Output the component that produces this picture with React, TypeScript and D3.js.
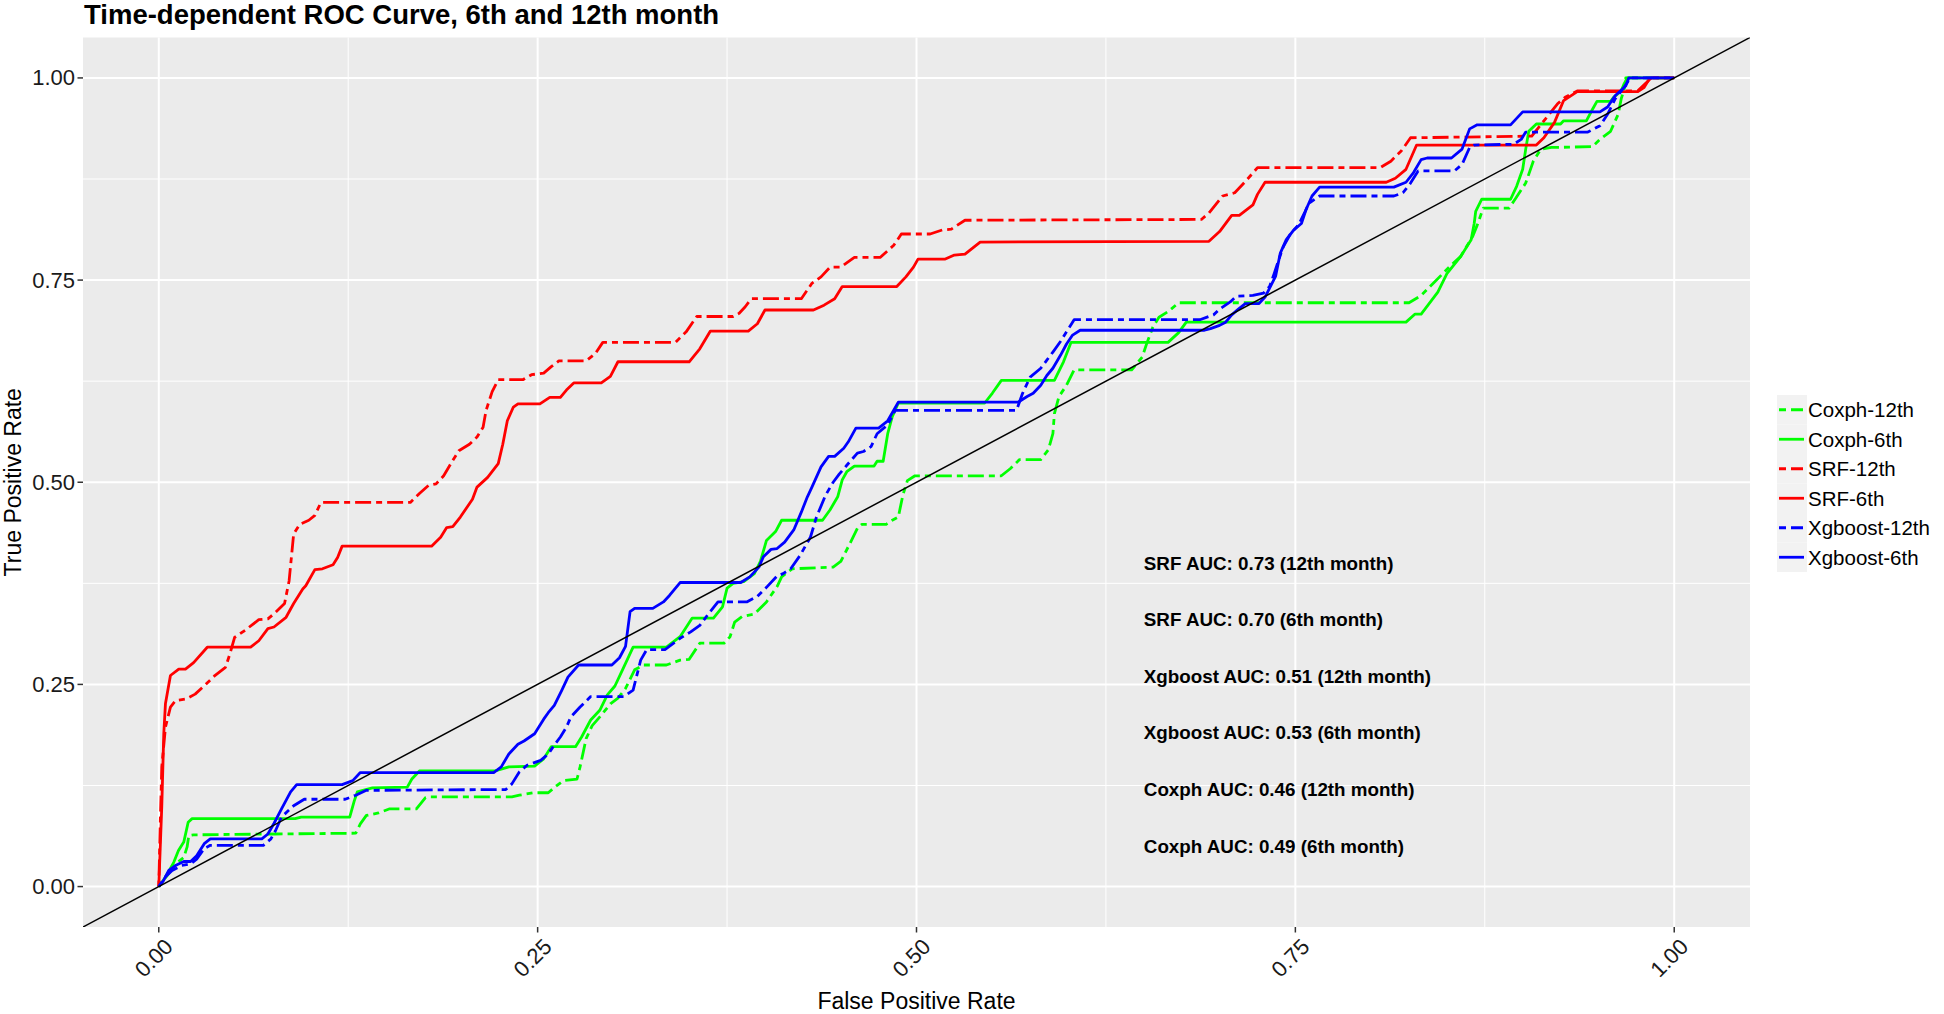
import React from "react";
import * as d3 from "d3";

type Pt = [number, number];

const seriesNames = ["Coxph-12th", "Coxph-6th", "SRF-12th", "SRF-6th", "Xgboost-12th", "Xgboost-6th"];
const seriesColors = ["#00FF00", "#00FF00", "#FF0000", "#FF0000", "#0000FF", "#0000FF"];
const seriesDashed = [true, false, true, false, true, false];

const coxph12: Pt[] = [[0,0],[0.0055,0.0136],[0.011,0.028],[0.0165,0.036],[0.0187,0.049],[0.0198,0.063],[0.023,0.064],[0.077,0.065],[0.13,0.066],[0.133,0.0775],[0.137,0.088],[0.145,0.091],[0.152,0.096],[0.17,0.096],[0.176,0.11],[0.178,0.111],[0.233,0.111],[0.238,0.113],[0.247,0.116],[0.257,0.116],[0.262,0.124],[0.267,0.131],[0.276,0.133],[0.278,0.148],[0.282,0.183],[0.286,0.199],[0.292,0.212],[0.298,0.226],[0.303,0.233],[0.308,0.245],[0.314,0.268],[0.32,0.274],[0.335,0.274],[0.344,0.28],[0.35,0.281],[0.357,0.301],[0.373,0.301],[0.377,0.309],[0.38,0.327],[0.385,0.334],[0.393,0.337],[0.401,0.352],[0.408,0.371],[0.411,0.383],[0.418,0.393],[0.445,0.395],[0.45,0.402],[0.456,0.424],[0.461,0.443],[0.464,0.448],[0.48,0.448],[0.484,0.453],[0.488,0.457],[0.491,0.484],[0.494,0.502],[0.499,0.508],[0.556,0.508],[0.562,0.517],[0.568,0.528],[0.582,0.528],[0.587,0.54],[0.59,0.56],[0.591,0.585],[0.594,0.606],[0.599,0.62],[0.604,0.639],[0.642,0.639],[0.649,0.655],[0.652,0.672],[0.656,0.692],[0.66,0.704],[0.666,0.711],[0.673,0.722],[0.825,0.722],[0.833,0.731],[0.842,0.748],[0.852,0.767],[0.859,0.779],[0.867,0.804],[0.87,0.818],[0.874,0.839],[0.891,0.839],[0.895,0.85],[0.902,0.87],[0.907,0.897],[0.912,0.912],[0.919,0.914],[0.946,0.915],[0.951,0.924],[0.958,0.934],[0.963,0.955],[0.965,0.974],[0.967,0.986],[0.968,1],[1,1]];

const coxph6: Pt[] = [[0,0],[0.0044,0.0115],[0.0099,0.03],[0.013,0.0445],[0.0165,0.055],[0.0194,0.0796],[0.022,0.084],[0.09,0.084],[0.094,0.086],[0.126,0.086],[0.129,0.106],[0.131,0.117],[0.141,0.122],[0.164,0.123],[0.167,0.133],[0.172,0.143],[0.222,0.143],[0.231,0.148],[0.248,0.149],[0.254,0.158],[0.259,0.173],[0.275,0.173],[0.279,0.185],[0.285,0.206],[0.291,0.218],[0.296,0.237],[0.301,0.248],[0.306,0.268],[0.313,0.296],[0.335,0.296],[0.344,0.309],[0.352,0.332],[0.366,0.332],[0.372,0.346],[0.375,0.369],[0.379,0.375],[0.386,0.377],[0.393,0.387],[0.397,0.402],[0.401,0.428],[0.407,0.439],[0.411,0.453],[0.438,0.453],[0.443,0.466],[0.448,0.482],[0.451,0.503],[0.454,0.513],[0.459,0.52],[0.472,0.52],[0.474,0.526],[0.478,0.526],[0.481,0.56],[0.484,0.581],[0.488,0.598],[0.545,0.598],[0.55,0.61],[0.556,0.626],[0.591,0.626],[0.597,0.649],[0.602,0.673],[0.666,0.673],[0.673,0.685],[0.678,0.698],[0.823,0.698],[0.829,0.708],[0.833,0.708],[0.844,0.735],[0.85,0.758],[0.859,0.779],[0.866,0.8],[0.868,0.82],[0.869,0.835],[0.873,0.85],[0.892,0.85],[0.896,0.866],[0.9,0.887],[0.902,0.912],[0.904,0.934],[0.909,0.943],[0.925,0.943],[0.927,0.947],[0.942,0.947],[0.946,0.961],[0.949,0.971],[0.958,0.971],[0.96,0.976],[0.965,0.984],[0.967,0.993],[0.969,1],[1,1]];

const srf12: Pt[] = [[0,0],[0.001,0.08],[0.002,0.148],[0.0044,0.197],[0.0077,0.222],[0.011,0.23],[0.018,0.232],[0.024,0.238],[0.031,0.25],[0.037,0.261],[0.044,0.271],[0.047,0.288],[0.05,0.308],[0.057,0.317],[0.066,0.33],[0.072,0.331],[0.077,0.339],[0.083,0.35],[0.086,0.378],[0.089,0.436],[0.093,0.448],[0.099,0.453],[0.103,0.459],[0.107,0.475],[0.166,0.475],[0.172,0.486],[0.178,0.496],[0.183,0.498],[0.188,0.508],[0.194,0.527],[0.198,0.539],[0.205,0.547],[0.21,0.556],[0.214,0.568],[0.216,0.589],[0.22,0.612],[0.224,0.627],[0.2405,0.627],[0.246,0.633],[0.254,0.635],[0.259,0.643],[0.264,0.65],[0.282,0.65],[0.288,0.659],[0.293,0.673],[0.341,0.673],[0.348,0.686],[0.355,0.705],[0.379,0.705],[0.383,0.709],[0.387,0.717],[0.391,0.727],[0.424,0.727],[0.431,0.746],[0.437,0.754],[0.443,0.766],[0.45,0.766],[0.459,0.778],[0.476,0.778],[0.485,0.793],[0.49,0.807],[0.509,0.807],[0.517,0.812],[0.523,0.813],[0.532,0.824],[0.688,0.825],[0.693,0.833],[0.702,0.854],[0.71,0.858],[0.718,0.874],[0.725,0.889],[0.806,0.889],[0.813,0.897],[0.82,0.91],[0.826,0.926],[0.906,0.928],[0.914,0.947],[0.923,0.968],[0.928,0.976],[0.936,0.984],[0.976,0.984],[0.981,0.993],[0.985,1],[1,1]];

const srf6: Pt[] = [[0,0],[0.002,0.1],[0.0033,0.189],[0.0044,0.226],[0.0077,0.261],[0.0132,0.269],[0.0176,0.269],[0.023,0.277],[0.032,0.296],[0.0606,0.296],[0.066,0.304],[0.072,0.319],[0.076,0.321],[0.084,0.333],[0.089,0.35],[0.095,0.368],[0.097,0.372],[0.103,0.392],[0.108,0.393],[0.115,0.398],[0.118,0.407],[0.121,0.421],[0.18,0.421],[0.186,0.432],[0.19,0.444],[0.194,0.445],[0.199,0.457],[0.207,0.479],[0.21,0.494],[0.217,0.506],[0.224,0.523],[0.227,0.547],[0.23,0.576],[0.234,0.593],[0.237,0.597],[0.2515,0.597],[0.258,0.605],[0.265,0.605],[0.269,0.614],[0.274,0.623],[0.292,0.623],[0.298,0.631],[0.303,0.649],[0.35,0.649],[0.357,0.665],[0.364,0.687],[0.389,0.687],[0.395,0.696],[0.4,0.713],[0.432,0.713],[0.439,0.719],[0.446,0.727],[0.451,0.742],[0.487,0.742],[0.493,0.754],[0.498,0.766],[0.501,0.776],[0.519,0.776],[0.525,0.781],[0.532,0.782],[0.542,0.797],[0.693,0.798],[0.7,0.81],[0.708,0.83],[0.713,0.83],[0.722,0.843],[0.725,0.856],[0.73,0.871],[0.81,0.871],[0.816,0.876],[0.823,0.887],[0.83,0.917],[0.909,0.917],[0.914,0.926],[0.921,0.945],[0.927,0.972],[0.936,0.983],[0.976,0.983],[0.98,0.988],[0.983,0.997],[0.985,1],[1,1]];

const xgb12: Pt[] = [[0,0],[0.0044,0.012],[0.0088,0.02],[0.015,0.026],[0.021,0.028],[0.025,0.034],[0.03,0.047],[0.034,0.051],[0.069,0.051],[0.074,0.059],[0.077,0.069],[0.081,0.086],[0.089,0.1],[0.096,0.108],[0.123,0.108],[0.13,0.113],[0.137,0.119],[0.229,0.12],[0.233,0.127],[0.238,0.142],[0.243,0.15],[0.252,0.156],[0.257,0.164],[0.261,0.175],[0.265,0.185],[0.269,0.197],[0.272,0.21],[0.278,0.222],[0.285,0.235],[0.307,0.235],[0.313,0.243],[0.318,0.28],[0.322,0.293],[0.334,0.293],[0.344,0.307],[0.351,0.315],[0.357,0.323],[0.363,0.338],[0.369,0.352],[0.388,0.352],[0.395,0.359],[0.401,0.37],[0.408,0.384],[0.412,0.387],[0.417,0.393],[0.423,0.409],[0.43,0.432],[0.434,0.457],[0.44,0.484],[0.445,0.5],[0.449,0.51],[0.454,0.521],[0.461,0.536],[0.465,0.538],[0.47,0.544],[0.474,0.56],[0.481,0.571],[0.486,0.589],[0.566,0.589],[0.57,0.61],[0.575,0.63],[0.582,0.641],[0.586,0.651],[0.59,0.661],[0.595,0.674],[0.599,0.686],[0.604,0.701],[0.687,0.701],[0.696,0.707],[0.7,0.714],[0.707,0.723],[0.711,0.73],[0.722,0.731],[0.729,0.734],[0.733,0.742],[0.736,0.758],[0.739,0.775],[0.742,0.791],[0.747,0.808],[0.752,0.818],[0.756,0.833],[0.759,0.845],[0.766,0.854],[0.815,0.854],[0.821,0.858],[0.826,0.87],[0.831,0.885],[0.855,0.885],[0.86,0.893],[0.865,0.914],[0.868,0.917],[0.894,0.918],[0.899,0.924],[0.902,0.933],[0.943,0.933],[0.951,0.941],[0.956,0.955],[0.961,0.974],[0.966,0.986],[0.971,1],[1,1]];

const xgb6: Pt[] = [[0,0],[0.003,0.007],[0.0066,0.02],[0.011,0.026],[0.0165,0.031],[0.021,0.031],[0.025,0.038],[0.03,0.053],[0.034,0.059],[0.068,0.059],[0.072,0.065],[0.076,0.078],[0.081,0.096],[0.087,0.117],[0.091,0.126],[0.121,0.126],[0.128,0.131],[0.133,0.141],[0.221,0.141],[0.226,0.148],[0.231,0.164],[0.237,0.176],[0.241,0.18],[0.248,0.189],[0.254,0.207],[0.257,0.215],[0.261,0.224],[0.266,0.243],[0.27,0.259],[0.277,0.274],[0.299,0.274],[0.304,0.283],[0.308,0.297],[0.311,0.34],[0.314,0.344],[0.326,0.344],[0.333,0.352],[0.337,0.36],[0.344,0.376],[0.384,0.376],[0.39,0.383],[0.396,0.395],[0.399,0.408],[0.404,0.417],[0.408,0.418],[0.413,0.426],[0.419,0.441],[0.424,0.463],[0.428,0.482],[0.431,0.494],[0.437,0.519],[0.442,0.532],[0.446,0.532],[0.452,0.542],[0.455,0.55],[0.46,0.567],[0.475,0.567],[0.481,0.576],[0.488,0.599],[0.567,0.599],[0.573,0.606],[0.577,0.61],[0.582,0.62],[0.586,0.632],[0.59,0.641],[0.595,0.657],[0.599,0.671],[0.603,0.682],[0.608,0.688],[0.69,0.688],[0.694,0.69],[0.7,0.694],[0.704,0.698],[0.708,0.707],[0.713,0.715],[0.717,0.721],[0.726,0.721],[0.73,0.729],[0.733,0.74],[0.737,0.755],[0.74,0.783],[0.744,0.8],[0.749,0.812],[0.754,0.82],[0.757,0.837],[0.761,0.854],[0.766,0.865],[0.815,0.865],[0.823,0.871],[0.828,0.883],[0.833,0.899],[0.837,0.901],[0.853,0.901],[0.86,0.912],[0.865,0.937],[0.87,0.942],[0.892,0.942],[0.9,0.958],[0.951,0.958],[0.956,0.964],[0.961,0.978],[0.968,0.99],[0.97,1],[1,1]];

const seriesData: Pt[][] = [coxph12, coxph6, srf12, srf6, xgb12, xgb6];

const majorTicks = [0, 0.25, 0.5, 0.75, 1];
const minorTicks = [0.125, 0.375, 0.625, 0.875];
const tickLabels = ["0.00", "0.25", "0.50", "0.75", "1.00"];

const aucLabels = [
  "SRF AUC: 0.73 (12th month)",
  "SRF AUC: 0.70 (6th month)",
  "Xgboost AUC: 0.51 (12th month)",
  "Xgboost AUC: 0.53 (6th month)",
  "Coxph AUC: 0.46 (12th month)",
  "Coxph AUC: 0.49 (6th month)",
];
const aucY = [0.4, 0.33, 0.26, 0.19, 0.12, 0.05];
const aucX = 0.65;

const titleText = "Time-dependent ROC Curve, 6th and 12th month";
const xTitle = "False Positive Rate";
const yTitle = "True Positive Rate";

const W = 1944;
const H = 1014;
const panel = { left: 83, right: 1750, top: 37.5, bottom: 927 };
const FONT = "'Liberation Sans', Arial, Helvetica, sans-serif";
const DASH = "6,5,16,5";

export default function App() {
  const x = d3.scaleLinear().domain([-0.05, 1.05]).range([panel.left, panel.right]);
  const y = d3.scaleLinear().domain([-0.05, 1.05]).range([panel.bottom, panel.top]);
  const line = d3
    .line<Pt>()
    .x((d) => x(d[0]))
    .y((d) => y(d[1]));

  const legendX = 1777;
  const legendTop = 395;
  const keyH = 29.5;
  const keyW = 30;

  return (
    <svg
      width={W}
      height={H}
      viewBox={`0 0 ${W} ${H}`}
      style={{ position: "absolute", left: 0, top: 0, display: "block", background: "#fff" }}
      fontFamily={FONT}
    >
      <defs>
        <clipPath id="panelClip">
          <rect x={panel.left} y={panel.top} width={panel.right - panel.left} height={panel.bottom - panel.top} />
        </clipPath>
      </defs>
      <rect x={0} y={0} width={W} height={H} fill="#fff" />
      <text x={84} y={24} fontSize={27.5} fontWeight="bold" fill="#000">
        {titleText}
      </text>

      <rect
        x={panel.left}
        y={panel.top}
        width={panel.right - panel.left}
        height={panel.bottom - panel.top}
        fill="#EBEBEB"
      />
      {minorTicks.map((t) => (
        <g key={"mn" + t}>
          <line x1={x(t)} x2={x(t)} y1={panel.top} y2={panel.bottom} stroke="#fff" strokeWidth={1} />
          <line x1={panel.left} x2={panel.right} y1={y(t)} y2={y(t)} stroke="#fff" strokeWidth={1} />
        </g>
      ))}
      {majorTicks.map((t) => (
        <g key={"mj" + t}>
          <line x1={x(t)} x2={x(t)} y1={panel.top} y2={panel.bottom} stroke="#fff" strokeWidth={2} />
          <line x1={panel.left} x2={panel.right} y1={y(t)} y2={y(t)} stroke="#fff" strokeWidth={2} />
        </g>
      ))}

      <g clipPath="url(#panelClip)">
        {seriesData.map((data, i) => (
          <path
            key={seriesNames[i]}
            d={line(data) || ""}
            fill="none"
            stroke={seriesColors[i]}
            strokeWidth={2.8}
            strokeLinejoin="round"
            strokeDasharray={seriesDashed[i] ? DASH : undefined}
          />
        ))}
        <line x1={x(-0.05)} y1={y(-0.05)} x2={x(1.05)} y2={y(1.05)} stroke="#000" strokeWidth={1.5} />
        {aucLabels.map((s, i) => (
          <text
            key={s}
            x={x(aucX)}
            y={y(aucY[i])}
            fontSize={18.8}
            fontWeight="bold"
            dominantBaseline="central"
            fill="#000"
          >
            {s}
          </text>
        ))}
      </g>

      {majorTicks.map((t, i) => (
        <g key={"yt" + t}>
          <line x1={panel.left - 5.5} x2={panel.left} y1={y(t)} y2={y(t)} stroke="#333" strokeWidth={1.5} />
          <text
            x={panel.left - 8}
            y={y(t)}
            fontSize={22}
            textAnchor="end"
            dominantBaseline="central"
            fill="#1a1a1a"
          >
            {tickLabels[i]}
          </text>
        </g>
      ))}
      {majorTicks.map((t, i) => (
        <g key={"xt" + t}>
          <line x1={x(t)} x2={x(t)} y1={panel.bottom} y2={panel.bottom + 5.5} stroke="#333" strokeWidth={1.5} />
          <text
            transform={`translate(${x(t) - 5},${958}) rotate(-45)`}
            fontSize={22}
            textAnchor="middle"
            dominantBaseline="central"
            fill="#1a1a1a"
          >
            {tickLabels[i]}
          </text>
        </g>
      ))}

      <text x={(panel.left + panel.right) / 2} y={1009} fontSize={23} textAnchor="middle" fill="#000">
        {xTitle}
      </text>
      <text
        transform={`translate(21,${(panel.top + panel.bottom) / 2}) rotate(-90)`}
        fontSize={23}
        textAnchor="middle"
        fill="#000"
      >
        {yTitle}
      </text>

      {seriesNames.map((name, i) => {
        const cy = legendTop + keyH * (i + 0.5);
        return (
          <g key={"lg" + name}>
            <rect x={legendX} y={legendTop + keyH * i} width={keyW} height={keyH} fill="#F2F2F2" />
            <line
              x1={legendX + 2}
              x2={legendX + keyW - 3}
              y1={cy}
              y2={cy}
              stroke={seriesColors[i]}
              strokeWidth={2.8}
              strokeDasharray={seriesDashed[i] ? "7,5,12,5" : undefined}
            />
            <text x={legendX + keyW + 1} y={cy} fontSize={20.5} dominantBaseline="central" fill="#000">
              {name}
            </text>
          </g>
        );
      })}
    </svg>
  );
}
